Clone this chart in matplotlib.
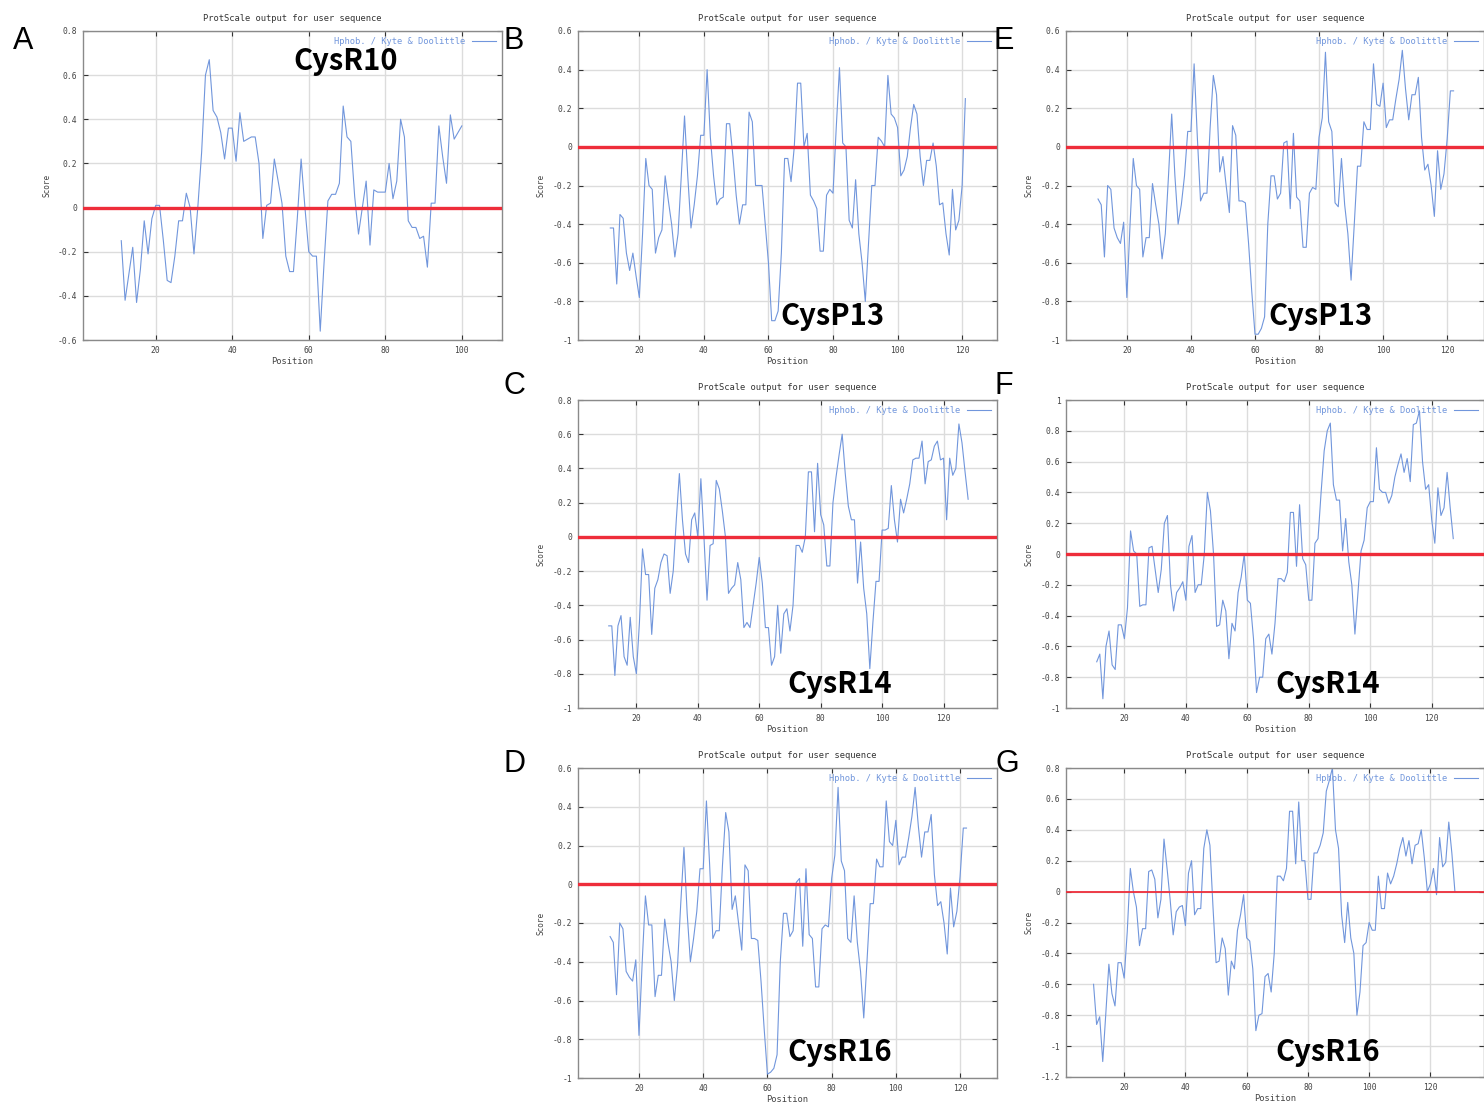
import matplotlib
matplotlib.use('Agg')
import matplotlib.pyplot as plt
import numpy as np

W, H = 1484, 1102

# Kyte & Doolittle hydropathy profiles (window scores)
cysr10_start = 11
cysr10 = [-0.15, -0.42, -0.3, -0.18, -0.43, -0.28, -0.06, -0.21, -0.05, 0.01,
          0.01, -0.15, -0.33, -0.34, -0.22, -0.06, -0.06, 0.065, 0.0, -0.21,
          0.0, 0.25, 0.6, 0.67, 0.44, 0.41, 0.34, 0.22, 0.36, 0.36,
          0.21, 0.43, 0.3, 0.31, 0.32, 0.32, 0.2, -0.14, 0.01, 0.02,
          0.22, 0.12, 0.02, -0.22, -0.29, -0.29, -0.05, 0.22, 0.0, -0.2,
          -0.22, -0.22, -0.56, -0.25, 0.03, 0.06, 0.06, 0.11, 0.46, 0.32,
          0.3, 0.05, -0.12, 0.0, 0.12, -0.17, 0.08, 0.07, 0.07, 0.07,
          0.2, 0.04, 0.12, 0.4, 0.32, -0.06, -0.09, -0.09, -0.14, -0.13,
          -0.27, 0.02, 0.02, 0.37, 0.23, 0.11, 0.42, 0.31, 0.34, 0.37]

cysp13_b_start = 11
cysp13_b = [-0.42, -0.42, -0.71, -0.35, -0.37, -0.55, -0.64, -0.55, -0.67, -0.78,
            -0.45, -0.06, -0.2, -0.22, -0.55, -0.47, -0.43, -0.15, -0.28, -0.4,
            -0.57, -0.45, -0.15, 0.16, -0.15, -0.42, -0.3, -0.15, 0.06, 0.06,
            0.4, 0.05, -0.15, -0.3, -0.27, -0.26, 0.12, 0.12, -0.05, -0.25,
            -0.4, -0.3, -0.3, 0.18, 0.13, -0.2, -0.2, -0.2, -0.4, -0.6,
            -0.9, -0.9, -0.85, -0.55, -0.06, -0.06, -0.18, 0.0, 0.33, 0.33,
            0.0, 0.07, -0.25, -0.28, -0.32, -0.54, -0.54, -0.25, -0.22, -0.24,
            0.1, 0.41, 0.02, 0.0, -0.38, -0.42, -0.17, -0.45, -0.6, -0.8,
            -0.5, -0.2, -0.2, 0.05, 0.03, 0.0, 0.37, 0.17, 0.15, 0.1,
            -0.15, -0.12, -0.05, 0.1, 0.22, 0.17, -0.05, -0.2, -0.07, -0.07,
            0.02, -0.1, -0.3, -0.29, -0.45, -0.56, -0.22, -0.43, -0.38, -0.2,
            0.25]

cysp13_e_start = 11
cysp13_e = [-0.27, -0.3, -0.57, -0.2, -0.22, -0.42, -0.47, -0.5, -0.39, -0.78,
            -0.4, -0.06, -0.2, -0.22, -0.57, -0.47, -0.47, -0.19, -0.3, -0.4,
            -0.58, -0.45, -0.15, 0.17, -0.15, -0.4, -0.3, -0.15, 0.08, 0.08,
            0.43, 0.05, -0.28, -0.24, -0.24, 0.1, 0.37, 0.27, -0.13, -0.05,
            -0.2, -0.34, 0.11, 0.06, -0.28, -0.28, -0.29, -0.5, -0.75, -0.97,
            -0.97, -0.94, -0.88, -0.4, -0.15, -0.15, -0.27, -0.24, 0.02, 0.03,
            -0.32, 0.07, -0.26, -0.28, -0.52, -0.52, -0.24, -0.21, -0.22, 0.05,
            0.15, 0.49, 0.13, 0.08, -0.29, -0.31, -0.06, -0.3, -0.45, -0.69,
            -0.4, -0.1, -0.1, 0.13, 0.09, 0.09, 0.43, 0.22, 0.21, 0.33,
            0.1, 0.14, 0.14, 0.25, 0.35, 0.5, 0.3, 0.14, 0.27, 0.27,
            0.36, 0.05, -0.12, -0.09, -0.2, -0.36, -0.02, -0.22, -0.14, 0.04,
            0.29, 0.29]

cysr14_c_start = 11
cysr14_c = [-0.52, -0.52, -0.81, -0.52, -0.46, -0.7, -0.75, -0.47, -0.7, -0.8,
            -0.5, -0.07, -0.22, -0.22, -0.57, -0.3, -0.25, -0.15, -0.1, -0.11,
            -0.33, -0.2, 0.1, 0.37, 0.1, -0.1, -0.15, 0.1, 0.14, 0.0,
            0.34, 0.0, -0.37, -0.05, -0.04, 0.33, 0.28, 0.15, 0.0, -0.33,
            -0.3, -0.28, -0.15, -0.25, -0.53, -0.5, -0.53, -0.4, -0.27, -0.12,
            -0.27, -0.53, -0.53, -0.75, -0.7, -0.4, -0.68, -0.45, -0.42, -0.55,
            -0.4, -0.05, -0.05, -0.09, 0.0, 0.38, 0.38, 0.03, 0.43, 0.13,
            0.07, -0.17, -0.17, 0.2, 0.35, 0.48, 0.6, 0.37, 0.18, 0.1,
            0.1, -0.27, -0.03, -0.3, -0.45, -0.77, -0.5, -0.26, -0.26, 0.04,
            0.04, 0.05, 0.3, 0.1, -0.03, 0.22, 0.14, 0.22, 0.31, 0.45,
            0.46, 0.46, 0.56, 0.31, 0.44, 0.45, 0.53, 0.56, 0.45, 0.46,
            0.1, 0.46, 0.36, 0.4, 0.66, 0.55, 0.38, 0.22]

cysr14_f_start = 11
cysr14_f = [-0.7, -0.65, -0.94, -0.6, -0.5, -0.72, -0.75, -0.46, -0.46, -0.55,
            -0.35, 0.15, 0.02, 0.0, -0.34, -0.33, -0.33, 0.04, 0.05, -0.1,
            -0.25, -0.1, 0.2, 0.25, -0.2, -0.37, -0.25, -0.22, -0.18, -0.3,
            0.05, 0.12, -0.25, -0.2, -0.2, 0.0, 0.4, 0.28, 0.0, -0.47,
            -0.46, -0.3, -0.37, -0.68, -0.45, -0.5, -0.25, -0.15, 0.0, -0.3,
            -0.32, -0.55, -0.9, -0.8, -0.8, -0.55, -0.52, -0.65, -0.45, -0.16,
            -0.16, -0.18, -0.12, 0.27, 0.27, -0.08, 0.32, -0.03, -0.07, -0.3,
            -0.3, 0.07, 0.1, 0.4, 0.67, 0.8, 0.85, 0.45, 0.35, 0.35,
            0.02, 0.23, -0.05, -0.2, -0.52, -0.25, 0.02, 0.09, 0.3, 0.34,
            0.34, 0.69, 0.42, 0.4, 0.4, 0.33, 0.38, 0.5, 0.58, 0.65,
            0.53, 0.62, 0.47, 0.84, 0.85, 0.93, 0.6, 0.42, 0.45, 0.22,
            0.07, 0.43, 0.25, 0.3, 0.53, 0.3, 0.1]

cysr16_d_start = 11
cysr16_d = [-0.27, -0.3, -0.57, -0.2, -0.23, -0.45, -0.48, -0.5, -0.39, -0.78,
            -0.4, -0.06, -0.21, -0.21, -0.58, -0.47, -0.47, -0.18, -0.3, -0.4,
            -0.6, -0.42, -0.1, 0.19, -0.15, -0.4, -0.28, -0.14, 0.08, 0.08,
            0.43, 0.1, -0.28, -0.24, -0.24, 0.1, 0.37, 0.27, -0.13, -0.06,
            -0.2, -0.34, 0.1, 0.07, -0.28, -0.28, -0.29, -0.5, -0.75, -0.98,
            -0.97, -0.95, -0.88, -0.4, -0.15, -0.15, -0.27, -0.24, 0.01, 0.03,
            -0.32, 0.08, -0.26, -0.28, -0.53, -0.53, -0.23, -0.21, -0.22, 0.03,
            0.15, 0.5, 0.12, 0.07, -0.28, -0.3, -0.06, -0.3, -0.45, -0.69,
            -0.4, -0.1, -0.1, 0.13, 0.09, 0.09, 0.43, 0.22, 0.2, 0.33,
            0.1, 0.14, 0.14, 0.24, 0.35, 0.5, 0.3, 0.14, 0.27, 0.27,
            0.36, 0.05, -0.11, -0.09, -0.2, -0.36, -0.02, -0.22, -0.14, 0.04,
            0.29, 0.29]

cysr16_g_start = 10
cysr16_g = [-0.6, -0.86, -0.81, -1.1, -0.79, -0.47, -0.66, -0.74, -0.46, -0.46,
            -0.56, -0.26, 0.15, 0.0, -0.1, -0.35, -0.24, -0.24, 0.13, 0.14,
            0.08, -0.17, -0.05, 0.34, 0.15, -0.05, -0.28, -0.13, -0.1, -0.09,
            -0.22, 0.12, 0.2, -0.15, -0.11, -0.11, 0.28, 0.4, 0.3, -0.1,
            -0.46, -0.45, -0.3, -0.37, -0.67, -0.45, -0.5, -0.25, -0.15, -0.02,
            -0.3, -0.32, -0.5, -0.9, -0.8, -0.79, -0.55, -0.53, -0.65, -0.4,
            0.1, 0.1, 0.07, 0.15, 0.52, 0.52, 0.18, 0.58, 0.2, 0.2,
            -0.05, -0.05, 0.25, 0.25, 0.3, 0.38, 0.65, 0.72, 0.8, 0.4,
            0.28, -0.15, -0.33, -0.07, -0.3, -0.4, -0.8, -0.65, -0.35, -0.33,
            -0.2, -0.25, -0.25, 0.1, -0.11, -0.11, 0.12, 0.05, 0.1, 0.18,
            0.28, 0.35, 0.23, 0.33, 0.18, 0.3, 0.31, 0.4, 0.22, 0.0,
            0.05, 0.15, -0.02, 0.35, 0.16, 0.19, 0.45, 0.25, 0.0]

LINE_BLUE = '#7196dc'
RED = '#ee2d3a'
FRAME = '#8a8a8a'


def px_rect(left, top, right, bottom):
    return [left / W, 1 - bottom / H, (right - left) / W, (bottom - top) / H]


def draw_panel(fig, rect, start, vals, xlim, ylim, name, name_xy, red_lw=2.4):
    ax = fig.add_axes(px_rect(*rect))
    x = np.arange(start, start + len(vals))
    ax.plot(x, vals, color=LINE_BLUE, lw=0.8, label='Hphob. / Kyte & Doolittle')
    ax.axhline(0, color=RED, lw=red_lw, zorder=3)
    ax.set_xlim(*xlim)
    ax.set_ylim(*ylim)
    ax.set_xticks(np.arange(20, xlim[1], 20))
    # + 0.0 turns -0.0 into 0.0 so the zero tick has no minus sign
    ax.set_yticks(np.round(np.arange(ylim[0], ylim[1] + 0.01, 0.2), 1) + 0.0)
    ax.yaxis.set_major_formatter(matplotlib.ticker.FormatStrFormatter('%g'))
    ax.grid(True, color='#dcdcdc', lw=1.0)
    ax.set_axisbelow(True)
    ax.tick_params(direction='in', length=3.5, width=0.8, color='#333333',
                   top=True, right=True, labelsize=5.8, labelcolor='#444444', pad=4)
    for lab in ax.get_xticklabels() + ax.get_yticklabels():
        lab.set_family('DejaVu Sans Mono')
    for sp in ax.spines.values():
        sp.set_color(FRAME)
        sp.set_linewidth(1.0)
    ax.set_title('ProtScale output for user sequence', fontsize=6.3,
                 family='DejaVu Sans Mono', color='#333333', pad=7)
    ax.set_xlabel('Position', fontsize=6.3, family='DejaVu Sans Mono',
                  color='#444444', labelpad=1.5)
    ax.set_ylabel('Score', fontsize=5.5, family='DejaVu Sans Mono',
                  color='#444444', labelpad=5)
    ax.legend(loc='upper right', frameon=False, markerfirst=False,
              handlelength=2.7, borderaxespad=0.3, labelcolor=LINE_BLUE,
              prop={'family': 'DejaVu Sans Mono', 'size': 6.3})
    fig.text(name_xy[0] / W, 1 - name_xy[1] / H, name, fontsize=21,
             family=['Noto Sans CJK JP', 'DejaVu Sans'], weight='bold',
             ha='center', va='center', color='black')
    return ax


fig = plt.figure(figsize=(W / 100, H / 100), dpi=100)

draw_panel(fig, (83, 31, 502, 340), cysr10_start, cysr10, (1, 110.5), (-0.6, 0.8),
           'CysR10', (346, 61))
draw_panel(fig, (578, 31, 997, 340), cysp13_b_start, cysp13_b, (1, 130.8), (-1, 0.6),
           'CysP13', (832, 316))
draw_panel(fig, (1066, 31, 1484, 340), cysp13_e_start, cysp13_e, (1, 131.5), (-1, 0.6),
           'CysP13', (1320, 316))
draw_panel(fig, (578, 400, 997, 708), cysr14_c_start, cysr14_c, (1, 137.4), (-1, 0.8),
           'CysR14', (840, 684))
draw_panel(fig, (1066, 400, 1484, 708), cysr14_f_start, cysr14_f, (1, 137), (-1, 1),
           'CysR14', (1328, 684))
draw_panel(fig, (578, 768, 997, 1078), cysr16_d_start, cysr16_d, (1, 131.5), (-1, 0.6),
           'CysR16', (840, 1052))
draw_panel(fig, (1066, 768, 1484, 1077), cysr16_g_start, cysr16_g, (1, 137.5), (-1.2, 0.8),
           'CysR16', (1328, 1052), red_lw=1.3)

letters = ['A', 'B', 'E', 'C', 'F', 'D', 'G']
letter_xy = [(23, 41), (514, 41), (1004, 41), (514, 386), (1004, 386), (514, 764), (1007, 764)]
for lt, (lx, ly) in zip(letters, letter_xy):
    fig.text(lx / W, 1 - ly / H, lt, fontsize=22, family='Liberation Sans',
             ha='center', va='center', color='black')

fig.savefig('out.png', dpi=100, facecolor='white')
plt.close(fig)
